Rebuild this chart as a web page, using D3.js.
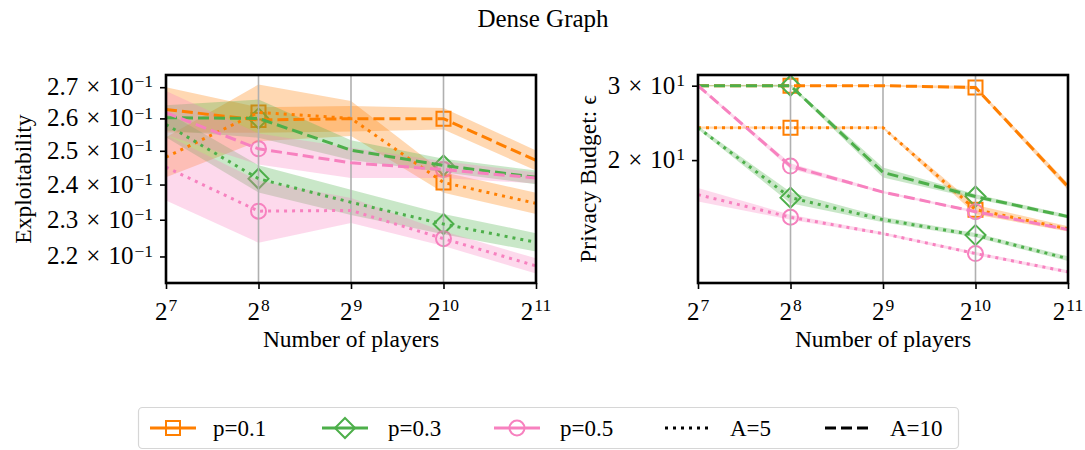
<!DOCTYPE html>
<html>
<head>
<meta charset="utf-8">
<script src="https://cdn.jsdelivr.net/npm/d3@7"></script>
<style>
    body { margin: 0; background: #fff; }
    svg text { font-family: "Liberation Serif", "Times New Roman", serif; fill: #000; }
</style>
</head>
<body>
<svg id="chart" width="1085" height="450"></svg>
<script>
// number of players on the x axis (log2)
const players = [128, 256, 512, 1024, 2048]
const xExponents = [7, 8, 9, 10, 11]
const markerIdx = [1, 3]

// exploitability, mean and half band
const explP1A5 = [0.2481, 0.2619, 0.2600, 0.2406, 0.2346]
const explP1A5Err = [0.006, 0.009, 0.0055, 0.003, 0.003]
const explP1A10 = [0.2628, 0.2595, 0.2599, 0.2599, 0.2471]
const explP1A10Err = [0.0072, 0.004, 0.004, 0.0034, 0.003]
const explP3A5 = [0.2581, 0.2417, 0.2349, 0.2288, 0.2238]
const explP3A5Err = [0.004, 0.004, 0.0036, 0.0028, 0.0025]
const explP3A10 = [0.2602, 0.2600, 0.2502, 0.2456, 0.2421]
const explP3A10Err = [0.004, 0.006, 0.003, 0.002, 0.002]
const explP5A5 = [0.2451, 0.2324, 0.2326, 0.2248, 0.2175]
const explP5A5Err = [0.0097, 0.0087, 0.0035, 0.002, 0.002]
const explP5A10 = [0.2618, 0.2506, 0.2464, 0.2444, 0.2419]
const explP5A10Err = [0.007, 0.0047, 0.0045, 0.0025, 0.0016]
const explTicks = [0.22, 0.23, 0.24, 0.25, 0.26, 0.27]
const explTickMant = ["2.2", "2.3", "2.4", "2.5", "2.6", "2.7"]

// privacy budget, mean and half band
const epsP1A5 = [23.87, 23.87, 23.87, 15.27, 13.75]
const epsP1A5Err = [0.15, 0.15, 0.15, 0.4, 0.2]
const epsP1A10 = [30, 30, 30, 29.7, 17.3]
const epsP1A10Err = [0.1, 0.1, 0.1, 0.3, 0.3]
const epsP3A5 = [23.87, 16.3, 14.46, 13.29, 11.69]
const epsP3A5Err = [0.2, 0.5, 0.2, 0.15, 0.15]
const epsP3A10 = [30, 30, 18.7, 16.4, 14.7]
const epsP3A10Err = [0.1, 0.2, 0.5, 0.2, 0.15]
const epsP5A5 = [16.57, 14.65, 13.4, 12.02, 10.88]
const epsP5A5Err = [0.6, 0.2, 0.1, 0.1, 0.1]
const epsP5A10 = [30, 19.36, 16.8, 15.1, 13.7]
const epsP5A10Err = [0.2, 0.3, 0.1, 0.1, 0.1]
const epsTicks = [20, 30]
const epsTickMant = ["2", "3"]

const colors = { "0.1": "#ff7f00", "0.3": "#4daf4a", "0.5": "#f781bf" }
const shapes = { "0.1": "square", "0.3": "diamond", "0.5": "circle" }
const dashes = { 5: "3,5", 10: "11,5" }

const svg = d3.select("#chart")

svg.append("text")
    .attr("x", 543)
    .attr("y", 27)
    .attr("text-anchor", "middle")
    .style("font-size", "25px")
    .text("Dense Graph")

function markerPath(shape) {
    if (shape === "square") return "M-7,-7H7V7H-7Z"
    if (shape === "diamond") return "M0,-10L10,0L0,10L-10,0Z"
    return d3.arc()({ innerRadius: 0, outerRadius: 7.5, startAngle: 0, endAngle: 2 * Math.PI })
}

// "m x 10^e" the way the mathtext labels look
function sciLabel(sel, mant, exp) {
    sel.append("tspan").text(mant)
    sel.append("tspan").attr("dx", 8).text("\u00d7")
    sel.append("tspan").attr("dx", 8).text("10")
    sel.append("tspan")
        .attr("dy", "-0.45em")
        .attr("dx", 1)
        .style("font-size", "17.5px")
        .text(exp)
}

function panel(props) {
    const margin = props.margin
    const width = 370
    const height = 208
    const g = svg.append("g")
        .attr("transform", `translate(${margin.left}, ${margin.top})`)

    const xscl = d3.scaleLog().base(2)
        .domain([players[0], players[players.length - 1]])
        .range([0, width])

    const lo = d3.min(props.series, s => d3.min(s.mean, (m, i) => m - s.err[i]))
    const hi = d3.max(props.series, s => d3.max(s.mean, (m, i) => m + s.err[i]))
    const pad = Math.log(hi / lo) * 0.05
    const yscl = d3.scaleLog()
        .domain([lo * Math.exp(-pad), hi * Math.exp(pad)])
        .range([height, 0])

    // markers first, the bands sit on top of them
    props.series.forEach(s => {
        markerIdx.forEach(i => {
            g.append("path")
                .attr("d", markerPath(shapes[s.p]))
                .attr("transform", `translate(${xscl(players[i])}, ${yscl(s.mean[i])})`)
                .attr("fill", "none")
                .attr("stroke", colors[s.p])
                .attr("stroke-width", 2)
        })
    })

    const area = d3.area()
        .x((d, i) => xscl(players[i]))
        .y0(d => yscl(d[0]))
        .y1(d => yscl(d[1]))

    props.series.forEach(s => {
        g.append("path")
            .datum(s.mean.map((m, i) => [m - s.err[i], m + s.err[i]]))
            .attr("d", area)
            .attr("fill", colors[s.p])
            .attr("fill-opacity", 0.3)
    })

    // vertical grid
    g.selectAll(".grid")
        .data(players)
        .enter().append("line")
        .attr("class", "grid")
        .attr("x1", d => xscl(d))
        .attr("x2", d => xscl(d))
        .attr("y1", 0)
        .attr("y2", height)
        .attr("stroke", "#b0b0b0")
        .attr("stroke-width", 1.6)

    const line = d3.line()
        .x((d, i) => xscl(players[i]))
        .y(d => yscl(d))

    props.series.forEach(s => {
        g.append("path")
            .datum(s.mean)
            .attr("d", line)
            .attr("fill", "none")
            .attr("stroke", colors[s.p])
            .attr("stroke-width", 3)
            .style("stroke-dasharray", dashes[s.A])
    })

    const x_axis = d3.axisBottom(xscl)
        .tickValues(players)
        .tickFormat("")
        .tickSize(6)
        .tickSizeOuter(0)
    const y_axis = d3.axisLeft(yscl)
        .tickValues(props.ticks)
        .tickFormat("")
        .tickSize(6)
        .tickSizeOuter(0)

    const xa = g.append("g")
        .attr("transform", `translate(0, ${height})`)
        .call(x_axis)
    const ya = g.append("g").call(y_axis)
    xa.select(".domain").remove()
    ya.select(".domain").remove()
    g.selectAll(".tick line").attr("stroke", "#000").attr("stroke-width", 1.6)

    g.append("rect")
        .attr("width", width)
        .attr("height", height)
        .attr("fill", "none")
        .attr("stroke", "#000")
        .attr("stroke-width", 2.6)

    // tick labels
    xExponents.forEach((e, i) => {
        const t = g.append("text")
            .attr("x", xscl(players[i]))
            .attr("y", height + 37)
            .attr("text-anchor", "middle")
            .style("font-size", "25px")
        t.append("tspan").text("2")
        t.append("tspan")
            .attr("dy", "-0.5em")
            .attr("dx", 1)
            .style("font-size", "17.5px")
            .text(e)
    })

    props.ticks.forEach((v, i) => {
        const t = g.append("text")
            .attr("x", -13)
            .attr("y", yscl(v) + 8)
            .attr("text-anchor", "end")
            .style("font-size", "25px")
        sciLabel(t, props.tickMant[i], props.tickExp)
    })

    g.append("text")
        .attr("x", width / 2)
        .attr("y", height + 64)
        .attr("text-anchor", "middle")
        .style("font-size", "23.5px")
        .text("Number of players")

    g.append("text")
        .attr("transform", `translate(${props.ylabelX}, ${height / 2}) rotate(-90)`)
        .attr("text-anchor", "middle")
        .style("font-size", "23.5px")
        .text(props.ylabel)
}

panel({
    margin: { left: 166, top: 75 },
    ylabel: "Exploitability",
    ylabelX: -135,
    ticks: explTicks,
    tickMant: explTickMant,
    tickExp: "\u22121",
    series: [
        { p: "0.1", A: 5, mean: explP1A5, err: explP1A5Err },
        { p: "0.1", A: 10, mean: explP1A10, err: explP1A10Err },
        { p: "0.3", A: 5, mean: explP3A5, err: explP3A5Err },
        { p: "0.3", A: 10, mean: explP3A10, err: explP3A10Err },
        { p: "0.5", A: 5, mean: explP5A5, err: explP5A5Err },
        { p: "0.5", A: 10, mean: explP5A10, err: explP5A10Err },
    ]
})

panel({
    margin: { left: 698, top: 75 },
    ylabel: "Privacy Budget: \u03f5",
    ylabelX: -102,
    ticks: epsTicks,
    tickMant: epsTickMant,
    tickExp: "1",
    series: [
        { p: "0.1", A: 5, mean: epsP1A5, err: epsP1A5Err },
        { p: "0.1", A: 10, mean: epsP1A10, err: epsP1A10Err },
        { p: "0.3", A: 5, mean: epsP3A5, err: epsP3A5Err },
        { p: "0.3", A: 10, mean: epsP3A10, err: epsP3A10Err },
        { p: "0.5", A: 5, mean: epsP5A5, err: epsP5A5Err },
        { p: "0.5", A: 10, mean: epsP5A10, err: epsP5A10Err },
    ]
})

// legend
const legendItems = [
    { label: "p=0.1", color: colors["0.1"], shape: "square" },
    { label: "p=0.3", color: colors["0.3"], shape: "diamond" },
    { label: "p=0.5", color: colors["0.5"], shape: "circle" },
    { label: "A=5", color: "#000", dash: dashes[5] },
    { label: "A=10", color: "#000", dash: dashes[10] },
]
const legendLineX = [150, 322, 494, 665, 825]
const legendTextX = [213, 388, 560, 730, 890]

const legend = svg.append("g")
legend.append("rect")
    .attr("x", 138.5)
    .attr("y", 407.5)
    .attr("width", 820)
    .attr("height", 41)
    .attr("rx", 4)
    .attr("fill", "#fff")
    .attr("stroke", "#d6d6d6")
    .attr("stroke-width", 1.2)

legendItems.forEach((d, i) => {
    const x0 = legendLineX[i]
    legend.append("line")
        .attr("x1", x0)
        .attr("x2", x0 + 46)
        .attr("y1", 428)
        .attr("y2", 428)
        .attr("stroke", d.color)
        .attr("stroke-width", 3)
        .style("stroke-dasharray", d.dash || null)
    if (d.shape) {
        legend.append("path")
            .attr("d", markerPath(d.shape))
            .attr("transform", `translate(${x0 + 23}, 428)`)
            .attr("fill", "none")
            .attr("stroke", d.color)
            .attr("stroke-width", 2)
    }
    legend.append("text")
        .attr("x", legendTextX[i])
        .attr("y", 436)
        .style("font-size", "23px")
        .text(d.label)
})
</script>
</body>
</html>
